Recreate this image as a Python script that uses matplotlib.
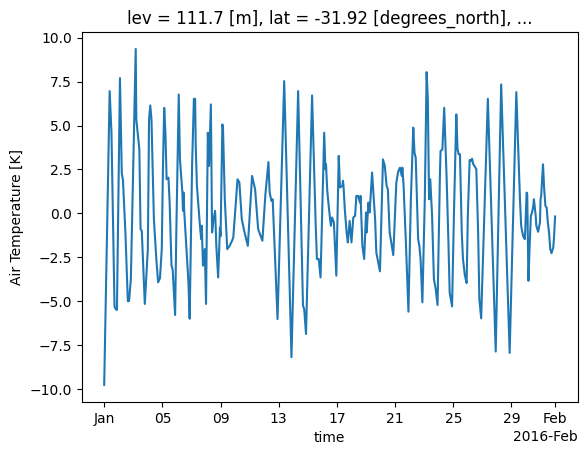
import matplotlib
matplotlib.use("Agg")
import matplotlib.pyplot as plt
import matplotlib.dates as mdates
import numpy as np
import pandas as pd

start = "2016-01-01"
hours = [0, 9, 12, 17, 19, 21, 26, 29, 31, 35, 39, 41, 44, 52, 53, 58, 60, 62, 67,
         72, 74, 76, 78, 82, 86, 89, 92, 95, 97, 99, 101, 103, 106, 108, 111, 113, 117,
         119, 123, 125, 129, 130, 131, 132, 139, 141, 145, 148, 150, 151, 153, 158, 160,
         161, 163, 166, 168, 170, 171, 173, 176, 178, 180, 183, 185, 188, 191, 192, 195,
         196, 199, 203, 207, 211, 213, 220, 223, 227, 231, 237, 244, 249, 254, 261, 266,
         271, 273, 276, 278, 286, 297, 309, 320, 328, 330, 333, 343, 349, 351, 354, 357,
         363, 365, 366, 368, 371, 374, 376, 379, 383, 387, 389, 393, 394, 395, 397, 400,
         402, 405, 408, 411, 414, 416, 419, 422, 423, 426, 429, 432, 433, 436, 438, 442,
         447, 449, 455, 458, 460, 463, 466, 468, 471, 477, 482, 485, 488, 491, 492, 494,
         498, 502, 506, 510, 512, 514, 518, 520, 522, 525, 529, 532, 534, 536, 538, 541,
         544, 547, 550, 554, 555, 558, 561, 563, 565, 568, 570, 574, 577, 581, 583, 585,
         587, 590, 592, 595, 598, 600, 603, 605, 607, 609, 611, 614, 617, 619, 622, 633,
         646, 655, 669, 680, 686, 688, 691, 694, 695, 697, 698, 700, 702, 704, 706, 708,
         709, 712, 713, 716, 719, 720, 721, 724, 726, 728, 730, 732, 734, 736, 738, 741,
         742, 744]
air_temp = [-9.77, 6.96, 4.59, -5.3, -5.45, -5.5, 7.7, 2.3, 1.86, -1.1, -5.0, -5.0, -3.74,
            9.36, 5.35, 3.64, -0.9, -1.0, -5.16,
            -2.04, 5.35, 6.14, 5.35, -0.33, -2.6, -3.93, -3.7, -2.04, 2.7, 6.0, 4.59, 1.94,
            2.03, 0.6, -2.97, -3.21, -5.79,
            -1.09, 6.77, 3.07, 1.18, 0.14, 1.18, 0.14, -3.93, -6.0, 2.7, 6.52, 6.52, 3.83,
            1.56, -0.71, -1.47,
            -0.71, -2.98, -2.04, -5.16, 0.99, 4.59, 2.7, 6.2, -1.09, -0.43, 0.14, -1.85,
            -3.65, -0.81, -1.3, 5.06,
            4.88, 0.8, -2.04, -1.85, -1.56, -1.37, 1.94, 1.77, -0.33, -1.0, -1.85, 2.13,
            1.37, -0.9, -1.56, 1.09,
            2.92, 1.18, 0.71, 0.8, -6.02, 7.53, -8.19, 6.96, -5.26, -5.45, -6.87, 6.71,
            -0.71, -2.6, -2.6, -3.65,
            4.59, 2.51, 2.79, 1.3, 0.23, -0.71, -0.24, -0.52, -3.55, 3.27, 1.47, 1.56, 1.85,
            1.47, 0.23, -1.09,
            -1.66, -0.43, -1.66, -0.24, -0.14, 0.99, 0.99, 0.61, 0.99, -1.85, -2.6, 0.05,
            -1.09, 0.61, 0.05, 2.32,
            -0.33, -2.23, -3.3, 0.42, 3.07, 2.7, 1.56, 1.37, -1.09, -2.38, 1.75, 2.36, 2.6,
            2.13, 2.6, 1.56,
            -1.85, -5.6, 0.8, 4.88, 3.45, 3.17, -1.47, -1.85, -2.6, -5.07, 0.8, 8.04, 6.48,
            0.8, 1.94, -0.14,
            -3.74, -4.31, -5.22, 2.32, 3.55, 3.64, 6.01, 4.02, 2.0, -1.66, -4.5, -5.3, -0.14,
            5.63, 3.64, 3.36,
            3.36, -1.09, -2.6, -3.52, -3.97, -0.14, 3.04, 2.98, 3.11, 2.79, 2.7, 2.51, -1.09,
            -4.88, -5.98, 6.52,
            -7.87, 7.34, -7.95, 6.9, 0.8, -0.71, -1.28, -1.47, -0.71, 1.18, 1.09, -3.84,
            -1.85, -0.14, 0.05, 0.42,
            0.8, -0.14, -0.71, -1.05, -0.52, 0.8, 0.99, 2.79, 1.37, 0.42, 0.33, -0.52, -1.09,
            -2.04, -2.27, -1.94,
            -1.47, -0.18]

title = "lev = 111.7 [m], lat = -31.92 [degrees_north], ..."
ylabel = "Air Temperature [K]"
xlabel = "time"

times = pd.Timestamp(start) + pd.to_timedelta(np.array(hours), unit="h")

fig, ax = plt.subplots(figsize=(6.4, 4.8), dpi=100)
ax.plot(times, air_temp, color="#1f77b4", linewidth=1.5)
locator = mdates.AutoDateLocator()
ax.xaxis.set_major_locator(locator)
ax.xaxis.set_major_formatter(mdates.ConciseDateFormatter(locator))
ax.set_title(title)
ax.set_ylabel(ylabel)
ax.set_xlabel(xlabel)
fig.savefig("out.png", dpi=100, bbox_inches="tight")
